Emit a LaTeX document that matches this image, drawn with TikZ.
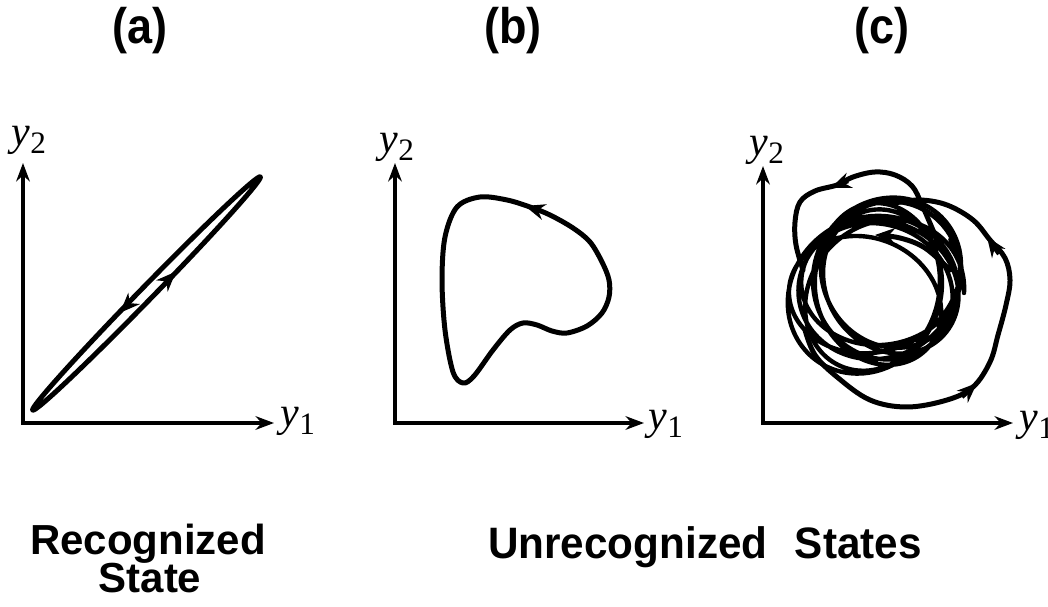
\documentclass[tikz,border=0pt]{standalone}
\usepackage{fontspec}
\setmainfont{Liberation Serif}
\newfontfamily\hv{Liberation Sans}
\usetikzlibrary{arrows.meta}
\begin{document}
\begin{tikzpicture}[x=0.25pt,y=-0.25pt,
  axis/.style={line width=0.9pt,{Stealth[length=4.6pt,width=3.4pt]}-{Stealth[length=4.6pt,width=3.4pt]}},
  traj/.style={line width=1.25pt,line join=round,line cap=round},
  tipline/.style={line width=1.1pt,-{Stealth[length=5pt,width=4pt]}},
  axlab/.style={anchor=base west,inner sep=0pt,font=\fontsize{10.5}{12}\selectfont},
  ttl/.style={anchor=base,inner sep=0pt,font=\hv\bfseries\fontsize{12.5}{14}\selectfont},
  captxt/.style={anchor=base,inner sep=0pt,font=\hv\bfseries\fontsize{10.5}{12}\selectfont},
  captxtb/.style={anchor=base,inner sep=0pt,font=\hv\bfseries\fontsize{11}{13}\selectfont}]
\useasboundingbox (0,0) rectangle (1048,607);
\newcommand{\ylab}[1]{\textit{y}\raisebox{-1.8pt}{\fontsize{7.8}{8}\selectfont #1}}

% titles
\node[ttl] (ta) at (140,44) {\scalebox{0.9}[1]{(a)}};
\node[ttl] (tb) at (513,44) {\scalebox{0.9}[1]{(b)}};
\node[ttl] (tc) at (882,44) {\scalebox{0.9}[1]{(c)}};

% ---------- panel (a)
\coordinate (oa) at (23,423);
\coordinate (ya) at (23,163);
\coordinate (xa) at (274,423);
\draw[axis] (ya) -- (oa) -- (xa);
\node[axlab] (la2) at (11,146) {\ylab{2}};
\node[axlab] (la1) at (280,427) {\ylab{1}};
\coordinate (ca) at (146.5,293.5);
\draw[traj,rotate around={45.7:(ca)}] (ca) ellipse[x radius=163,y radius=6.5];
\draw[tipline] (166,281.8) -- (176,271.6);
\draw[tipline] (130,302.6) -- (120,312.8);

% ---------- panel (b)
\coordinate (ob) at (395,423);
\coordinate (yb) at (395,163);
\coordinate (xb) at (644,423);
\draw[axis] (yb) -- (ob) -- (xb);
\node[axlab] (lb2) at (379,153) {\ylab{2}};
\node[axlab] (lb1) at (648,430) {\ylab{1}};
\draw[traj] plot[smooth cycle,tension=0.55] coordinates {
 (480,197) (507,200) (530,207) (550,215) (573,228) (590,242) (602,262)
 (609,280) (609,297) (602,313) (587,326) (567,333) (552,331) (537,325)
 (523,323) (510,330) (493,350) (474,376) (463,383) (453,372) (445,330)
 (442,280) (445,237) (457,207)};
\draw[tipline] (541,211) -- (525,206);

% ---------- panel (c)
\coordinate (oc) at (763,423);
\coordinate (yc) at (763,166);
\coordinate (xc) at (1013,423);
\draw[axis] (yc) -- (oc) -- (xc);
\node[axlab] (lc2) at (749,156) {\ylab{2}};
\node[axlab] (lc1) at (1019,431) {\ylab{1}};
\draw[traj,line width=1.1pt] plot[domain=0:2520,samples=560,smooth,variable=\t]
 ({880 + 6*sin(0.37*\t) + (84+7*sin(0.61*\t))*cos(\t)*cos(0.3*\t) - (62+10*cos(0.53*\t))*sin(\t)*sin(0.3*\t)},
  {287 + 6*cos(0.43*\t) - ((84+7*sin(0.61*\t))*cos(\t)*sin(0.3*\t) + (62+10*cos(0.53*\t))*sin(\t)*cos(0.3*\t))});
\draw[traj] plot[smooth,tension=0.6] coordinates {
 (805,330) (815,355) (837,377) (870,400) (907,407) (947,400) (973,387)
 (990,362) (998,335) (1006,305) (1010,280) (1005,258) (990,240) (973,220)
 (947,205) (920,200) (895,203)};
\draw[traj] plot[smooth,tension=0.6] coordinates {
 (935,235) (922,205) (912,186) (895,175) (875,172) (853,177) (837,185)
 (815,191) (800,202) (795,222) (796,245) (803,270)};
\draw[traj,-{Stealth[length=5pt,width=4pt]}] plot[smooth,tension=0.6] coordinates {
 (950,270) (925,248) (900,238) (875,235)};
\draw[tipline] (848,181) -- (831,188);
\draw[tipline] (999,254) -- (987,237);
\draw[tipline] (962,397) -- (977,383);

% captions
\node[captxt] (r1) at (148,555) {Recognized};
\node[captxt] (r2) at (150,593) {State};
\node[captxtb] (u1) at (705,559) {\scalebox{0.96}[1]{Unrecognized\hspace{0.65em}States}};
\end{tikzpicture}
\end{document}
